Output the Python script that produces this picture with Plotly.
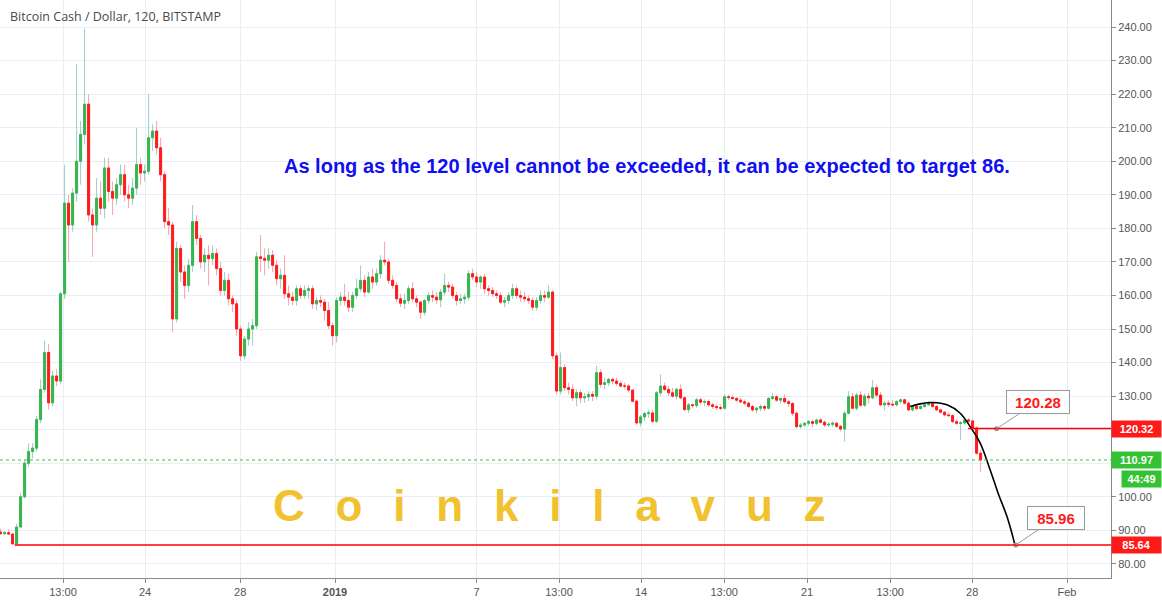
import plotly.graph_objects as go

# ---------------- data (4h candles) ----------------
opens = [89.5, 89.0, 89.3, 88.9, 86.0, 91.0, 100.0, 110.0, 113.5, 114.5,
         123, 132, 143, 128, 136, 134.5, 160.5, 187.5, 181, 190.5,
         200, 208, 217, 184, 181, 189, 186, 198, 191, 189,
         193, 196, 190, 189, 192, 199, 196.5, 197, 207, 209,
         204, 196, 182, 181, 153, 174, 167, 163, 169, 182,
         177, 170, 172, 171, 172.5, 168, 161.5, 164.5, 159, 157.5,
         150, 142, 147, 150, 151, 171.5, 171, 170.5, 172, 169,
         165, 166, 160.5, 159.5, 158.5, 162, 160, 161.5, 162, 157.5,
         158.5, 158, 155.5, 151, 148, 158.5, 159.5, 158.5, 156.5, 160,
         162, 164.5, 161, 165.5, 164, 166.5, 170.5, 170, 164.5, 163,
         159, 157.7, 158.5, 162, 159, 158, 155, 158.5, 160, 159.5,
         158.7, 161, 163, 162.5, 160, 158.5, 159, 159.5, 166.5, 165.5,
         164, 165.5, 162, 161.5, 160.5, 160, 158, 158.5, 160, 162,
         160, 159.5, 159, 158.5, 156.5, 158.5, 160, 159.5, 161, 142,
         131.5, 138.5, 132.5, 132, 129.5, 131, 129.5, 129.8, 130.5, 130,
         137, 133.5, 134, 135, 134.5, 133.8, 133, 133, 131.8, 128.5,
         122, 123.8, 124.8, 125, 122.5, 131, 133, 132, 131, 130,
         132, 129.5, 126, 127.4, 127.2, 128.9, 128.2, 128.4, 127.4, 126.9,
         126.6, 126.4, 129.8, 129.6, 129.3, 128.8, 128.3, 127.9, 126.9, 125.9,
         126.4, 126.9, 126.4, 129.3, 129.8, 128.8, 129.3, 128.3, 127.8, 124.9,
         120.9, 121.4, 121.9, 122.4, 121.9, 122.9, 122.2, 121.4, 121.6, 121.9,
         121.0, 120.2, 124.9, 129.8, 126.4, 130.3, 127.3, 130, 129.5, 132.5,
         130.3, 127.4, 127.9, 127.6, 127.4, 128.4, 128.9, 127.9, 125.9, 126.9,
         126.3, 126.9, 127.4, 127.9, 126.9, 125.9, 125.2, 124.4, 124.2, 122.4,
         121.9, 122.0, 122.9, 122.6, 120.5, 113]

highs = [90.5, 89.8, 90.3, 89.2, 92.0, 101, 111, 116, 116, 124,
         135, 146.5, 145.5, 137.5, 138, 161, 199, 190, 192, 229,
         212, 239.5, 220, 186, 195, 194, 201, 201, 194, 195,
         199, 199, 193, 195, 210, 201, 199, 220, 211, 212,
         207, 197, 186, 182, 176, 175, 169, 171, 187, 184,
         178, 174, 175, 175, 174, 170, 167, 166.5, 160, 158.5,
         151, 148, 152, 153, 173, 178, 174, 174, 173.5, 170.5,
         168, 172, 163, 161, 163, 163, 163, 163, 163, 159.5,
         160, 159, 158, 152, 159.5, 161, 163.5, 161, 161, 165,
         169, 166, 167, 168, 168, 172, 176, 171, 166, 164,
         160.5, 160.5, 163, 164, 160, 158.5, 159, 161, 161.5, 161,
         162, 166.5, 164, 163.5, 161, 160.5, 160.5, 167.5, 168, 167,
         166, 166.5, 163, 162.5, 161.5, 161, 159.5, 161, 163.5, 163,
         161.5, 161, 160, 159.5, 159.5, 161.5, 161.5, 163, 161.5, 143,
         143, 139.5, 134, 133.5, 132, 132, 131, 131.5, 131.5, 139,
         138, 135.5, 135.5, 135.5, 135.5, 134.5, 134, 133.5, 132, 129,
         124.5, 125.5, 126, 126, 131.5, 136.5, 134, 133, 132.5, 132.5,
         133.5, 130, 128, 128, 129.5, 129.5, 129, 129, 128, 127.5,
         127.5, 130.5, 130.5, 130.3, 129.8, 129.5, 129, 128.5, 127.5, 126.8,
         127.5, 127.4, 129.8, 131, 130.3, 129.5, 130.5, 128.8, 128.3, 125.5,
         122, 122.3, 123, 122.8, 123.3, 123.5, 122.8, 122.3, 122.5, 122.3,
         121.5, 125.5, 131.5, 131, 131, 131.5, 130.8, 131, 134.8, 133.5,
         131.3, 128.5, 128.8, 128.8, 128.8, 129.3, 129.3, 128.3, 127.3, 127.3,
         127.3, 127.8, 128.5, 128.3, 127.3, 126.3, 125.6, 125, 124.6, 123,
         122.5, 123.3, 123.5, 123.2, 121, 114]

lows = [88.7, 88.5, 88.6, 85.6, 85.7, 90.5, 99.5, 109, 111.5, 113.5,
        122, 131, 126, 127, 133, 133.5, 159, 170, 179, 188,
        193, 205, 182, 171.5, 179, 184, 183, 188, 184, 187,
        190, 188, 186, 187, 190, 193, 194, 196, 203, 202,
        194, 180, 178, 149, 152, 164, 159, 161, 167, 175,
        168, 167, 163, 169, 166, 160, 160, 157, 155, 148,
        140.5, 141, 145, 145, 150, 167, 166, 168, 167, 163,
        162, 159, 157, 157, 157, 159, 159, 159, 156, 155.5,
        156.5, 152.5, 150, 145, 146, 157, 157, 155, 155, 159,
        161, 159.5, 160.5, 162, 163, 165, 169, 163.5, 162, 158,
        156.5, 156, 157.5, 158, 156.5, 153, 154, 157.5, 158, 157.5,
        156.5, 160, 161, 159, 157, 157.5, 157.5, 158.5, 164.5, 162.5,
        162, 160.5, 160, 159.5, 159, 157.5, 156.5, 157.5, 159, 159,
        158, 158, 157.5, 155.5, 155.5, 157.5, 158, 159, 141, 130.5,
        130.5, 131.5, 130.5, 128.5, 127, 128, 128, 128.5, 128.5, 129,
        132.5, 132, 133, 133.5, 133, 132.5, 132, 131, 128, 121.5,
        121, 122.5, 123.5, 122, 122, 130, 131.5, 130, 129.5, 129,
        129, 125.5, 125, 126.5, 126.5, 127.5, 127, 126.8, 126.2, 125.8,
        125.8, 126, 128.8, 128.8, 128.3, 127.8, 127.3, 126.5, 125.3, 124.8,
        125.5, 125.5, 126, 128.8, 128.3, 127.8, 127.8, 126.8, 124, 120.3,
        120.3, 120.8, 121.2, 120.8, 121.3, 121.8, 120.8, 120.8, 120.8, 120.5,
        119.5, 116.4, 124.5, 126, 125.8, 126.8, 126.8, 127.8, 129, 129.5,
        127, 125.8, 126.8, 127, 127, 127.8, 127.5, 125.5, 125.4, 125.8,
        126, 126.5, 127, 126.5, 125.5, 124.8, 124, 123.8, 122, 121.4,
        117, 121.5, 121.8, 119.5, 112.5, 107.5]

closes = [89.0, 89.3, 88.9, 86.0, 91.0, 100.0, 110.0, 113.5, 114.5, 123,
          132, 143, 128, 136, 134.5, 160.5, 187.5, 181, 190.5, 200,
          208, 217, 184, 181, 189, 186, 198, 191, 189, 193,
          196, 190, 189, 192, 199, 196.5, 197, 207, 209, 204,
          196, 182, 181, 153, 174, 167, 163, 169, 182, 177,
          170, 172, 171, 172.5, 168, 161.5, 164.5, 159, 157.5, 150,
          142, 147, 150, 151, 171.5, 171, 170.5, 172, 169, 165,
          166, 160.5, 159.5, 158.5, 162, 160, 161.5, 162, 157.5, 158.5,
          158, 155.5, 151, 148, 158.5, 159.5, 158.5, 156.5, 160, 162,
          164.5, 161, 165.5, 164, 166.5, 170.5, 170, 164.5, 163, 159,
          157.7, 158.5, 162, 159, 158, 155, 158.5, 160, 159.5, 158.7,
          161, 163, 162.5, 160, 158.5, 159, 159.5, 166.5, 165.5, 164,
          165.5, 162, 161.5, 160.5, 160, 158, 158.5, 160, 162, 160,
          159.5, 159, 158.5, 156.5, 158.5, 160, 159.5, 161, 142, 131.5,
          138.5, 132.5, 132, 129.5, 131, 129.5, 129.8, 130.5, 130, 137,
          133.5, 134, 135, 134.5, 133.8, 133, 133, 131.8, 128.5, 122,
          123.8, 124.8, 125, 122.5, 131, 133, 132, 131, 130, 132,
          129.5, 126, 127.4, 127.2, 128.9, 128.2, 128.4, 127.4, 126.9, 126.6,
          126.4, 129.8, 129.6, 129.3, 128.8, 128.3, 127.9, 126.9, 125.9, 126.4,
          126.9, 126.4, 129.3, 129.8, 128.8, 129.3, 128.3, 127.8, 124.9, 120.9,
          121.4, 121.9, 122.4, 121.9, 122.9, 122.2, 121.4, 121.6, 121.9, 121.0,
          120.2, 124.9, 129.8, 126.4, 130.3, 127.3, 130, 129.5, 132.5, 130.3,
          127.4, 127.9, 127.6, 127.4, 128.4, 128.9, 127.9, 125.9, 126.9, 126.3,
          126.9, 127.4, 127.9, 126.9, 125.9, 125.2, 124.4, 124.2, 122.4, 121.9,
          122.0, 122.9, 122.6, 120.5, 113, 110.97]

bar_index = list(range(len(closes)))

tick_labels = ["13:00", "24", "28", "<b>2019</b>", "7", "13:00", "14",
               "13:00", "21", "13:00", "28", "Feb"]
tick_pos = [15.6, 36.1, 59.9, 83.6, 119.0, 139.6, 160.1, 180.9, 201.6,
            222.4, 242.9, 266.6]

# price scale: levels covered by the marker boxes show no text
price_ticks = [80, 90, 100, 110, 120, 130, 140, 150, 160, 170, 180, 190, 200, 210, 220, 230, 240]
hidden_price_ticks = [110, 120]

# drawing (forecast arc) points, in bar-index / price units
curve_x = [227.4, 229.9, 233.1, 236.6, 239.9, 242.4, 244.9, 247.4, 249.4, 251.6, 253.6]
curve_y = [126.9, 127.7, 128.1, 127.4, 124.9, 120.9, 116.0, 108.0, 101.0, 94.1, 85.6]

level_upper = 120.32
level_upper_label = "120.28"
level_upper_start = 241.9
level_lower = 85.64
level_lower_label = "85.96"
level_lower_start = 3.5
last_price = 110.97
countdown = "44:49"
callout_x = [249.0, 253.8]
callout_y = [120.3, 85.64]

X_RANGE = [-0.15, 277.6]
Y_RANGE = [75.8, 248.05]

FONT = "Liberation Sans, Arial, sans-serif"

# ---------------- figure ----------------
fig = go.Figure()

# wicks (light coloured)
fig.add_trace(go.Candlestick(
    x=bar_index, open=opens, high=highs, low=lows, close=closes,
    increasing=dict(line=dict(color="#9fc9d0", width=1), fillcolor="#9fc9d0"),
    decreasing=dict(line=dict(color="#f7a3ab", width=1), fillcolor="#f7a3ab"),
    whiskerwidth=0, hoverinfo="skip", showlegend=False))

# bodies
body_hi = [max(o, c) for o, c in zip(opens, closes)]
body_lo = [min(o, c) for o, c in zip(opens, closes)]
fig.add_trace(go.Candlestick(
    x=bar_index, open=opens, high=body_hi, low=body_lo, close=closes,
    increasing=dict(line=dict(color="#38b64c", width=1), fillcolor="#38b64c"),
    decreasing=dict(line=dict(color="#ff1c1c", width=1), fillcolor="#ff1c1c"),
    whiskerwidth=0, hoverinfo="skip", showlegend=False))

# forecast arc
fig.add_trace(go.Scatter(x=curve_x, y=curve_y, mode="lines",
                         line=dict(color="black", width=1.6, shape="spline", smoothing=1.0),
                         hoverinfo="skip", showlegend=False))

# callout anchor dots
fig.add_trace(go.Scatter(x=callout_x, y=callout_y, mode="markers",
                         marker=dict(color="#9a9a9a", size=5),
                         hoverinfo="skip", showlegend=False))

shapes = [
    dict(type="line", xref="x", yref="y", x0=level_upper_start, x1=X_RANGE[1],
         y0=level_upper, y1=level_upper, line=dict(color="#ff0000", width=1.5)),
    dict(type="line", xref="x", yref="y", x0=level_lower_start, x1=X_RANGE[1],
         y0=level_lower, y1=level_lower, line=dict(color="#ff0000", width=1.5)),
    dict(type="line", xref="paper", yref="y", x0=0, x1=1,
         y0=last_price, y1=last_price, line=dict(color="#3cc43c", width=1, dash="dot")),
]

watermark = "\u2002\u2009".join("Coinkilavuz")

annotations = [
    dict(text="Bitcoin Cash / Dollar, 120, BITSTAMP", xref="paper", yref="paper",
         x=0.007, y=0.972, xanchor="left", yanchor="middle", showarrow=False,
         font=dict(family="Open Sans, Liberation Sans, sans-serif", size=12.5, color="#4a4a4a")),
    dict(text="<b>As long as the 120 level cannot be exceeded, it can be expected to target 86.</b>",
         xref="paper", yref="paper", x=0.5824, y=0.7128, xanchor="center", yanchor="middle",
         showarrow=False, font=dict(family=FONT, size=20, color="#0f0ff0")),
    dict(text="<b>" + watermark + "</b>",
         xref="paper", yref="paper", x=0.495, y=0.1246, xanchor="center", yanchor="middle",
         showarrow=False, font=dict(family=FONT, size=44, color="#f2c12e")),
    # callouts
    dict(text="<b>" + level_upper_label + "</b>", x=callout_x[0], y=callout_y[0], xref="x", yref="y",
         showarrow=True, ax=41, ay=-27, arrowhead=0, arrowwidth=1, arrowcolor="#9a9a9a",
         bgcolor="white", bordercolor="#9a9a9a", borderwidth=1, borderpad=3,
         width=56, height=16,
         font=dict(family=FONT, size=15, color="#ff1a1a")),
    dict(text="<b>" + level_lower_label + "</b>", x=callout_x[1], y=callout_y[1], xref="x", yref="y",
         showarrow=True, ax=40, ay=-27, arrowhead=0, arrowwidth=1, arrowcolor="#9a9a9a",
         bgcolor="white", bordercolor="#9a9a9a", borderwidth=1, borderpad=3,
         width=50, height=16,
         font=dict(family=FONT, size=15, color="#ff1a1a")),
]

# price-scale labels
def scale_label(txt, yval, color, xshift=0, width=45):
    return dict(text="<b>" + txt + "</b>", xref="paper", yref="y", x=1, y=yval,
                xanchor="left", yanchor="middle", showarrow=False, xshift=xshift,
                bgcolor=color, borderpad=2, width=width, height=12, align="center",
                font=dict(family=FONT, size=11, color="white"))

annotations.append(scale_label(f"{level_upper:.2f}", level_upper, "#ff1a1a"))
annotations.append(scale_label(f"{last_price:.2f}", last_price, "#33c233"))
annotations.append(scale_label(countdown, last_price - 5.7, "#33c233", xshift=10, width=35))
annotations.append(scale_label(f"{level_lower:.2f}", level_lower, "#ff1a1a"))

price_text = ["" if v in hidden_price_ticks else f"{v:.2f}" for v in price_ticks]

fig.update_layout(
    width=1162, height=603,
    margin=dict(l=0, r=51, t=0, b=25),
    paper_bgcolor="white", plot_bgcolor="white",
    shapes=shapes, annotations=annotations,
    showlegend=False, hovermode=False,
    xaxis=dict(range=X_RANGE, rangeslider=dict(visible=False),
               tickmode="array", tickvals=tick_pos, ticktext=tick_labels,
               showgrid=True, gridcolor="#e8eef4", gridwidth=1,
               showline=True, linecolor="#8a8a8a", linewidth=1,
               ticks="outside", ticklen=4, tickcolor="#8a8a8a",
               tickfont=dict(family=FONT, size=11, color="#555555"),
               zeroline=False, fixedrange=True),
    yaxis=dict(range=Y_RANGE, side="right",
               tickmode="array", tickvals=price_ticks, ticktext=price_text,
               showgrid=True, gridcolor="#e8eef4", gridwidth=1,
               showline=True, linecolor="#8a8a8a", linewidth=1,
               ticks="outside", ticklen=4, tickcolor="#8a8a8a",
               tickfont=dict(family=FONT, size=11, color="#555555"),
               zeroline=False, automargin=False, fixedrange=True),
)

fig.write_html("out.html", config={"displayModeBar": False},
               post_script="document.body.style.margin='0';document.body.style.padding='0';"
                           "document.body.style.overflow='hidden';")
